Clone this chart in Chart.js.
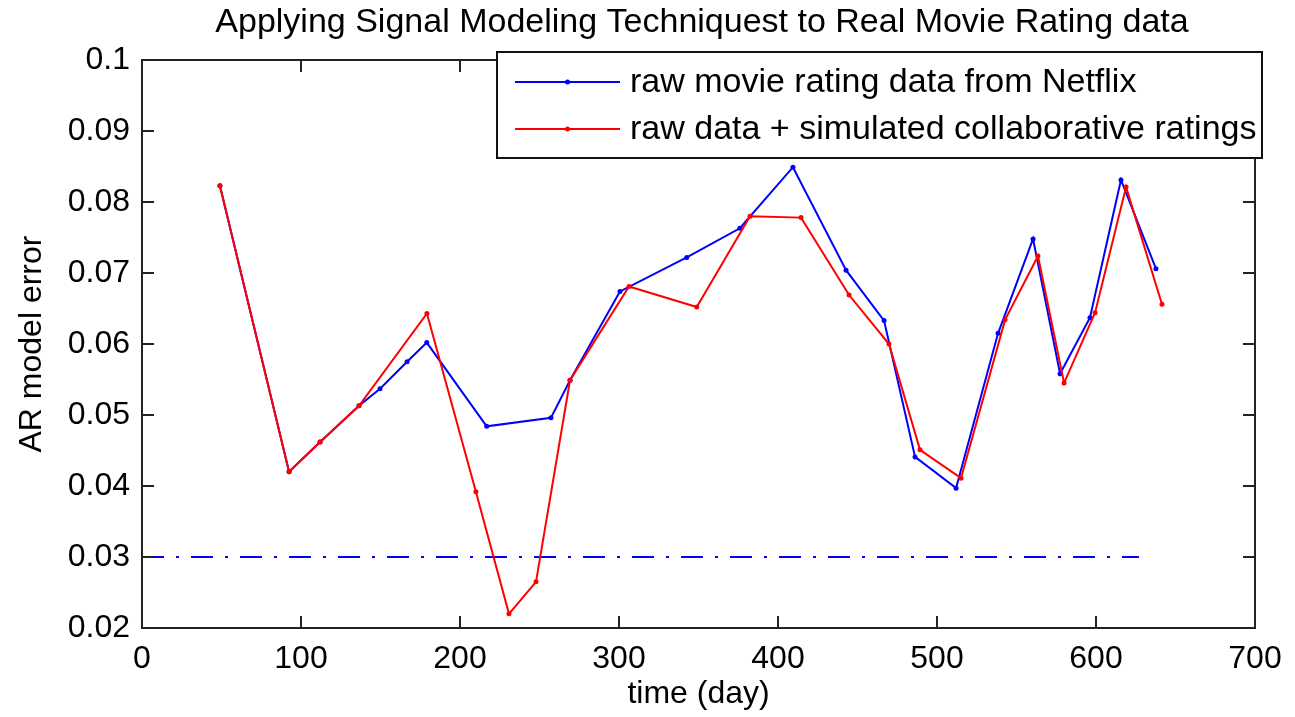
<!DOCTYPE html>
<html>
<head>
<meta charset="utf-8">
<script src="https://cdn.jsdelivr.net/npm/chart.js@4/dist/chart.umd.min.js"></script>
<style>
  html, body { margin: 0; padding: 0; background: #fff; }
  canvas { display: block; }
</style>
</head>
<body>
<canvas id="chart" width="1295" height="717"></canvas>
<script>
const titleText = 'Applying Signal Modeling Techniquest to Real Movie Rating data';
const xLabel = 'time (day)';
const yLabel = 'AR model error';

// raw movie rating data from Netflix
const netflixDays = [49, 92.5, 112, 136.5, 149.7, 166.7, 179.1, 216.8, 257.2, 269.2, 300.6, 342.6, 376, 409.4, 442.8, 466.7, 486.2, 512, 538.4, 560.4, 577.4, 596.2, 615.7, 637.7];
const netflixErr  = [0.0823, 0.0420, 0.0462, 0.0513, 0.0537, 0.0575, 0.0602, 0.0484, 0.0496, 0.0549, 0.0674, 0.0722, 0.0763, 0.0849, 0.0704, 0.0633, 0.0441, 0.0397, 0.0615, 0.0748, 0.0558, 0.0637, 0.0831, 0.0706];

// raw data + simulated collaborative ratings
const collabDays = [49, 92.5, 112, 136.5, 179.2, 210, 230.8, 247.8, 269.2, 306.3, 348.9, 382.4, 414.5, 444.7, 469.8, 489.3, 515.1, 542.8, 563.5, 579.9, 599.4, 618.9, 641.5];
const collabErr  = [0.0823, 0.0420, 0.0462, 0.0513, 0.0643, 0.0392, 0.0220, 0.0265, 0.0549, 0.0681, 0.0652, 0.0780, 0.0778, 0.0669, 0.0600, 0.0451, 0.0411, 0.0634, 0.0724, 0.0545, 0.0644, 0.0821, 0.0656];

// threshold line
const thresholdDays = [0, 627];
const thresholdErr = [0.03, 0.03];

const seriesNames = ['raw movie rating data from Netflix', 'raw data + simulated collaborative ratings'];
const seriesColors = ['#0000ff', '#ff0000'];

const FONT = '"Liberation Sans", Arial, Helvetica, sans-serif';

function toPoints(xs, ys) {
  return xs.map((x, i) => ({ x: x, y: ys[i] }));
}

// frame, inward ticks, title and boxed legend (matlab style)
const matlabLook = {
  id: 'matlabLook',
  afterDraw(chart) {
    const { ctx, chartArea: a, scales: { x, y } } = chart;
    ctx.save();
    ctx.strokeStyle = '#222';
    ctx.lineWidth = 2;
    ctx.strokeRect(a.left, a.top, a.right - a.left, a.bottom - a.top);

    ctx.beginPath();
    x.ticks.forEach(t => {
      const px = Math.round(x.getPixelForValue(t.value));
      ctx.moveTo(px, a.bottom); ctx.lineTo(px, a.bottom - 12);
      ctx.moveTo(px, a.top); ctx.lineTo(px, a.top + 12);
    });
    y.ticks.forEach(t => {
      const py = Math.round(y.getPixelForValue(t.value));
      ctx.moveTo(a.left, py); ctx.lineTo(a.left + 12, py);
      ctx.moveTo(a.right, py); ctx.lineTo(a.right - 12, py);
    });
    ctx.stroke();

    // title
    ctx.fillStyle = '#000';
    ctx.font = '34px ' + FONT;
    ctx.textAlign = 'center';
    ctx.textBaseline = 'alphabetic';
    ctx.fillText(titleText, 702, 32);

    // legend box
    const box = { left: 497, top: 52, right: 1262, bottom: 158 };
    ctx.fillStyle = '#fff';
    ctx.fillRect(box.left, box.top, box.right - box.left, box.bottom - box.top);
    ctx.strokeStyle = '#111';
    ctx.lineWidth = 2;
    ctx.strokeRect(box.left, box.top, box.right - box.left, box.bottom - box.top);

    const rows = [82, 129];
    ctx.font = '34px ' + FONT;
    ctx.textAlign = 'left';
    ctx.textBaseline = 'middle';
    seriesNames.forEach((name, i) => {
      const yy = rows[i];
      ctx.strokeStyle = seriesColors[i];
      ctx.lineWidth = 2;
      ctx.beginPath();
      ctx.moveTo(515, yy); ctx.lineTo(620, yy);
      ctx.stroke();
      ctx.fillStyle = seriesColors[i];
      ctx.beginPath();
      ctx.arc(567.5, yy, 2.5, 0, Math.PI * 2);
      ctx.fill();
      ctx.fillStyle = '#000';
      ctx.fillText(name, 630, yy + 1);
    });
    ctx.restore();
  }
};

new Chart(document.getElementById('chart').getContext('2d'), {
  type: 'line',
  data: {
    datasets: [
      {
        label: seriesNames[0],
        data: toPoints(netflixDays, netflixErr),
        borderColor: seriesColors[0],
        backgroundColor: seriesColors[0],
        borderWidth: 2,
        pointRadius: 2.5,
        pointBorderWidth: 0,
        tension: 0,
        order: 2
      },
      {
        label: seriesNames[1],
        data: toPoints(collabDays, collabErr),
        borderColor: seriesColors[1],
        backgroundColor: seriesColors[1],
        borderWidth: 2,
        pointRadius: 2.5,
        pointBorderWidth: 0,
        tension: 0,
        order: 1
      },
      {
        label: 'threshold',
        data: toPoints(thresholdDays, thresholdErr),
        borderColor: '#0000ff',
        borderWidth: 2,
        borderDash: [22, 12, 3, 12],
        pointRadius: 0,
        tension: 0,
        order: 3
      }
    ]
  },
  options: {
    responsive: false,
    animation: false,
    layout: { padding: { top: 60, right: 40, left: 0, bottom: 0 } },
    plugins: {
      legend: { display: false },
      tooltip: { enabled: false },
      title: { display: false }
    },
    scales: {
      x: {
        type: 'linear',
        min: 0,
        max: 700,
        ticks: {
          stepSize: 100,
          color: '#000',
          padding: 12,
          font: { family: FONT, size: 32 },
          maxRotation: 0,
          autoSkip: false
        },
        grid: { display: false, drawTicks: false },
        border: { display: false },
        title: {
          display: true,
          text: xLabel,
          color: '#000',
          font: { family: FONT, size: 32 },
          padding: { top: 0, bottom: 4 }
        },
        afterFit(scale) { scale.height = 89; }
      },
      y: {
        min: 0.02,
        max: 0.1,
        ticks: {
          stepSize: 0.01,
          color: '#000',
          padding: 12,
          font: { family: FONT, size: 32 },
          callback: v => String(parseFloat(v.toFixed(2)))
        },
        grid: { display: false, drawTicks: false },
        border: { display: false },
        title: {
          display: true,
          text: yLabel,
          color: '#000',
          font: { family: FONT, size: 32 },
          padding: { top: 13, bottom: 0 }
        },
        afterFit(scale) { scale.width = 142; }
      }
    }
  },
  plugins: [matlabLook]
});
</script>
</body>
</html>
